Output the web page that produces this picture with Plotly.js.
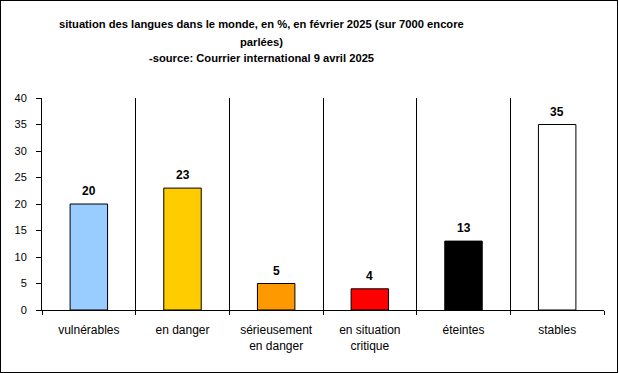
<!DOCTYPE html>
<html><head><meta charset="utf-8">
<script src="https://cdn.plot.ly/plotly-3.0.1.min.js"></script>
<style>html,body{margin:0;padding:0;background:#fff}#wrap{position:relative;width:619px;height:373px}#c{width:619px;height:373px}#frame{position:absolute;left:0;top:0;width:618px;height:373px;box-sizing:border-box;border:1px solid #000;pointer-events:none}</style>
</head><body><div id="wrap"><div id="c"></div><div id="frame"></div></div>
<script>
const categories = ["vulnérables", "en danger", "sérieusement<br>en danger", "en situation<br>critique", "éteintes", "stables"];
const values = [20, 23, 5, 4, 13, 35];
const barColors = ["#99CCFF", "#FFCC00", "#FF9900", "#FF0000", "#000000", "#FFFFFF"];
const yTicks = [0, 5, 10, 15, 20, 25, 30, 35, 40];
const titleLines = ["situation des langues dans le monde, en %, en février 2025 (sur 7000 encore", "parlées)", "-source: Courrier international 9 avril 2025"];

const font = "Liberation Sans, Arial, sans-serif";
const plotTop = 98, plotBottom = 310, plotLeft = 42, plotW = 562, plotH = 212;
const titleY = [24, 42, 58];

const trace = {
  type: "bar", x: categories, y: values,
  marker: {color: barColors, line: {color: "#000", width: 1}},
  width: 0.4, hoverinfo: "none"
};
const annotations = categories.map((c, i) => ({
  x: c, y: values[i], text: "<b>" + values[i] + "</b>", showarrow: false,
  yanchor: "bottom", yshift: 4, font: {family: font, size: 12, color: "#000"}
}));
titleLines.forEach((t, i) => annotations.push({
  xref: "paper", yref: "paper", x: (261 - plotLeft) / plotW, y: (plotBottom - titleY[i]) / plotH,
  xanchor: "center", yanchor: "middle", showarrow: false, text: "<b>" + t + "</b>",
  font: {family: font, size: 11.2, color: "#000"}
}));
const layout = {
  width: 619, height: 373,
  margin: {l: 42, r: 15, t: 98, b: 63},
  paper_bgcolor: "#fff", plot_bgcolor: "#fff",
  font: {family: font, size: 12, color: "#000"},
  showlegend: false,
  xaxis: {type: "category", tickson: "boundaries", ticks: "outside", ticklen: 4, tickcolor: "#000",
          showgrid: true, gridcolor: "#000", gridwidth: 1, showline: true, linecolor: "#000", linewidth: 1,
          tickfont: {family: font, size: 12}, ticklabelstandoff: 9, fixedrange: true},
  yaxis: {range: [0, 40], tickvals: yTicks, ticks: "outside", ticklen: 5, tickcolor: "#000",
          showgrid: false, zeroline: false, showline: true, linecolor: "#000", linewidth: 1,
          tickfont: {family: font, size: 11}, ticklabelstandoff: 7, fixedrange: true},
  annotations: annotations
};
Plotly.newPlot("c", [trace], layout, {displayModeBar: false, staticPlot: true});
</script></body></html>
